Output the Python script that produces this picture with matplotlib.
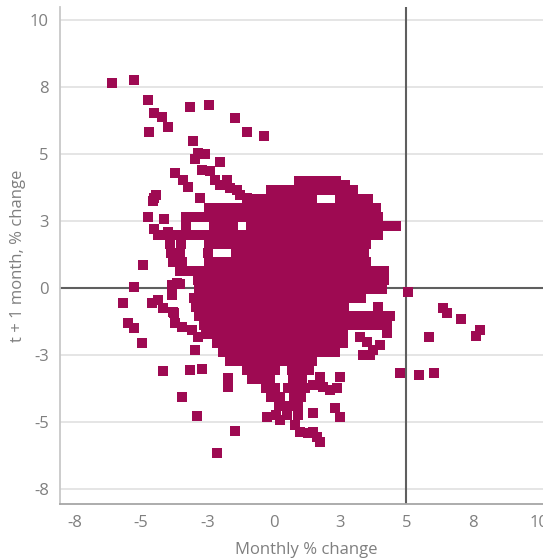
import matplotlib
matplotlib.use("Agg")
import matplotlib.pyplot as plt

# ---- data ----
blob_rows = [
    (3.99, [0.95, 1.3, 1.65, 2.0, 2.35]),
    (3.85, [2.7]),
    (3.66, [-0.1, 0.25, 0.6, 0.95, 1.3, 1.65, 2.0, 2.35, 2.7, 3.0]),
    (3.32, [-0.65, -0.3, 0.05, 0.4, 0.75, 1.1, 1.45, 2.5, 2.85, 3.2, 3.55]),
    (2.99, [-2.45, -2.1, -1.75, -1.4, -1.05, -0.7, -0.35, 0.0, 0.35, 0.7, 1.05, 1.4, 1.75, 2.1, 2.45, 2.8, 3.15, 3.5, 3.85]),
    (2.65, [-3.32, -2.97, -2.62, -2.27, -1.92, -1.57, -1.22, -0.87, -0.52, -0.17, 0.18, 0.53, 0.88, 1.23, 1.58, 1.93, 2.28, 2.63, 2.98, 3.33, 3.68, 3.95]),
    (2.31, [-3.3, -2.25, -1.9, -1.55, -0.85, -0.5, -0.15, 0.2, 0.55, 0.9, 1.25, 1.6, 1.95, 2.3, 2.65, 3.0, 3.35, 3.7, 4.05, 4.4, 4.6]),
    (1.98, [-4.38, -4.03, -3.68, -3.33, -2.98, -2.63, -2.28, -1.93, -1.58, -1.23, -0.88, -0.53, -0.18, 0.17, 0.52, 0.87, 1.22, 1.57, 1.92, 2.27, 2.62, 2.97, 3.32, 3.67, 3.95]),
    (1.64, [-3.9, -3.5, -2.45, -2.1, -1.75, -1.4, -1.05, -0.7, -0.35, 0.0, 0.35, 0.7, 1.05, 1.4, 1.75, 2.1, 2.45, 2.8, 3.15, 3.5]),
    (1.31, [-3.88, -3.53, -2.48, -1.43, -1.08, -0.73, -0.38, -0.03, 0.32, 0.67, 1.02, 1.37, 1.72, 2.07, 2.42, 2.77, 3.12, 3.4]),
    (0.97, [-3.8, -3.45, -2.45, -2.1, -1.75, -1.4, -1.05, -0.7, -0.35, 0.0, 0.35, 0.7, 1.05, 1.4, 1.75, 2.1, 2.45, 2.8, 3.15, 3.5]),
    (0.63, [-3.53, -3.18, -2.83, -2.48, -2.13, -1.78, -1.43, -1.08, -0.73, -0.38, -0.03, 0.32, 0.67, 1.02, 1.37, 1.72, 2.07, 2.42, 2.77, 3.12, 3.47, 3.82, 4.17]),
    (0.30, [-2.85, -2.5, -2.15, -1.8, -1.45, -1.1, -0.75, -0.4, -0.05, 0.3, 0.65, 1.0, 1.35, 1.7, 2.05, 2.4, 2.75, 3.1, 3.45, 3.8, 4.15]),
    (-0.04, [-2.83, -2.48, -2.13, -1.78, -1.43, -1.08, -0.73, -0.38, -0.03, 0.32, 0.67, 1.02, 1.37, 1.72, 2.07, 2.42, 2.77, 3.12, 3.47, 3.82, 4.1]),
    (-0.37, [-3.0, -2.65, -2.3, -1.95, -1.6, -1.25, -0.9, -0.55, -0.2, 0.15, 0.5, 0.85, 1.2, 1.55, 1.9, 2.25, 2.6, 2.95, 3.3]),
    (-0.71, [-2.93, -2.58, -2.23, -1.88, -1.53, -1.18, -0.83, -0.48, -0.13, 0.22, 0.57, 0.92, 1.27, 1.62, 1.97, 2.32, 2.67]),
    (-1.04, [-2.8, -2.45, -2.1, -1.75, -1.4, -1.05, -0.7, -0.35, 0.0, 0.35, 0.7, 1.05, 1.4, 1.75, 2.1, 2.45, 2.75, 3.1, 3.45, 3.8, 4.15, 4.4]),
    (-1.38, [-2.63, -2.28, -1.93, -1.58, -1.23, -0.88, -0.53, -0.18, 0.17, 0.52, 0.87, 1.22, 1.57, 1.92, 2.27, 2.62, 2.85, 3.2, 3.55, 3.9, 4.26]),
    (-1.72, [-2.55, -2.2, -1.85, -1.5, -1.15, -0.8, -0.45, -0.1, 0.25, 0.6, 0.95, 1.3, 1.65, 2.0, 2.35, 2.6]),
    (-2.05, [-2.13, -1.78, -1.43, -1.08, -0.73, -0.38, -0.03, 0.32, 0.67, 1.02, 1.37, 1.72, 2.07, 2.42, 2.62]),
    (-2.39, [-1.9, -1.55, -1.2, -0.85, -0.5, -0.15, 0.2, 0.55, 0.9, 1.25, 1.6, 1.95, 2.3]),
    (-2.72, [-1.63, -1.28, -0.93, -0.58, -0.23, 0.12, 0.47, 0.82, 1.17, 1.45]),
    (-3.06, [-1.0, -0.65, -0.3, 0.05, 0.7, 1.05, 1.35]),
    (-3.40, [-0.83, -0.48, -0.13, 0.72, 1.07]),
    (-3.73, [-0.3, 0.05, 0.55, 0.9, 1.2]),
    (-4.07, [-0.1, 0.25, 0.75, 1.05]),
    (-4.40, [0.2, 0.55, 0.9]),
    (-4.74, [0.1, 0.5, 0.9]),
]

upper_left_x = [-6.11, -5.28, -4.75, -4.53, -4.22, -4.0, -4.72, -3.17, -2.45, -1.47, -1.02, -0.38,
                -3.06, -2.87, -2.6, -2.98, -2.04, -2.72, -2.42, -3.74, -3.43, -3.25, -4.45, -4.57,
                -4.53, -4.75, -4.15, -2.23, -2.04, -1.77, -1.66, -1.4, -1.28, -1.02, -2.79, -4.5, -4.0]
upper_left_y = [7.65, 7.76, 7.01, 6.53, 6.38, 6.0, 5.82, 6.75, 6.83, 6.34, 5.82, 5.67,
                5.49, 5.04, 5.0, 4.81, 4.7, 4.4, 4.37, 4.29, 4.03, 3.77, 3.47, 3.25,
                3.36, 2.65, 2.57, 4.03, 3.84, 4.03, 3.73, 3.66, 3.47, 3.36, 3.36, 2.2, 2.1]

lower_left_x = [-5.7, -4.6, -4.38, -4.19, -3.77, -5.5, -5.28, -4.98, -3.74, -3.47, -3.09, -2.87,
                -2.98, -3.81, -3.85, -3.85, -3.55, -3.66, -5.28, -4.94, -4.19, -3.17, -2.72,
                -1.74, -1.74, -3.47, -2.91, -1.47, -2.15, -0.26]
lower_left_y = [-0.56, -0.56, -0.45, -0.75, -0.93, -1.31, -1.49, -2.05, -1.31, -1.46, -1.57, -1.83,
                -2.31, -0.9, -0.26, 0.11, 0.15, 0.19, 0.04, 0.86, -3.1, -3.06, -3.02,
                -3.36, -3.69, -4.07, -4.78, -5.34, -6.16, -4.81]

lower_mid_x = [1.74, 2.49, 1.47, 1.85, 2.11, 2.38, 2.3, 1.47, 2.49, 0.23, 0.79, 0.98, 1.28, 1.47, 1.62, 1.74]
lower_mid_y = [-3.32, -3.32, -3.62, -3.69, -3.81, -3.73, -4.48, -4.66, -4.81, -4.93, -5.11, -5.37, -5.41, -5.37, -5.56, -5.75]

right_x = [3.92, 4.26, 3.25, 3.51, 4.0, 3.74, 3.36, 3.62,
           5.06, 6.38, 6.53, 7.06, 7.77, 7.62, 5.85, 4.75, 5.5, 6.04]
right_y = [-0.71, -1.68, -1.83, -2.0, -2.13, -2.31, -2.5, -2.5,
           -0.15, -0.75, -0.93, -1.16, -1.57, -1.79, -1.83, -3.17, -3.25, -3.17]

tick_values = [-7.5, -5, -2.5, 0, 2.5, 5, 7.5, 10]
tick_labels = ["-8", "-5", "-3", "0", "3", "5", "8", "10"]

# ---- assemble ----
xs, ys = [], []
for yv, row in blob_rows:
    xs.extend(row)
    ys.extend([yv] * len(row))
for ax_, ay_ in [(upper_left_x, upper_left_y), (lower_left_x, lower_left_y),
                 (lower_mid_x, lower_mid_y), (right_x, right_y)]:
    xs.extend(ax_)
    ys.extend(ay_)

plt.rcParams['font.family'] = ['Open Sans', 'DejaVu Sans']

W, H = 543, 559
fig = plt.figure(figsize=(W / 100, H / 100), dpi=100)
ax = fig.add_axes([60 / W, (H - 504) / H, (552 - 60) / W, (504 - 7) / H])

ax.set_xlim(-8.06, 10.5)
ax.set_ylim(-8.06, 10.49)

for t in tick_values:
    ax.axhline(t, color='#e3e3e3', lw=1.3, zorder=0)
ax.axhline(0, color='#5f5f5f', lw=1.5, zorder=1)
ax.axvline(5, color='#5f5f5f', lw=1.5, zorder=1)

ax.scatter(xs, ys, marker='s', s=52, color='#9E0A52', linewidths=0, zorder=3)

ax.set_xticks(tick_values)
ax.set_xticklabels(tick_labels)
ax.set_yticks(tick_values)
ax.set_yticklabels(tick_labels)
ax.tick_params(length=0, labelsize=12, colors='#7f7f7f', pad=8)

for s in ['top', 'right']:
    ax.spines[s].set_visible(False)
ax.spines['left'].set_color('#c8c8c8')
ax.spines['bottom'].set_color('#a6a6a6')
ax.spines['left'].set_linewidth(1.3)
ax.spines['bottom'].set_linewidth(1.3)

ax.set_xlabel('Monthly % change', fontsize=12, color='#7f7f7f', labelpad=8)
ax.set_ylabel('t + 1 month, % change', fontsize=12, color='#7f7f7f', labelpad=3)

fig.savefig('out.png', dpi=100)
